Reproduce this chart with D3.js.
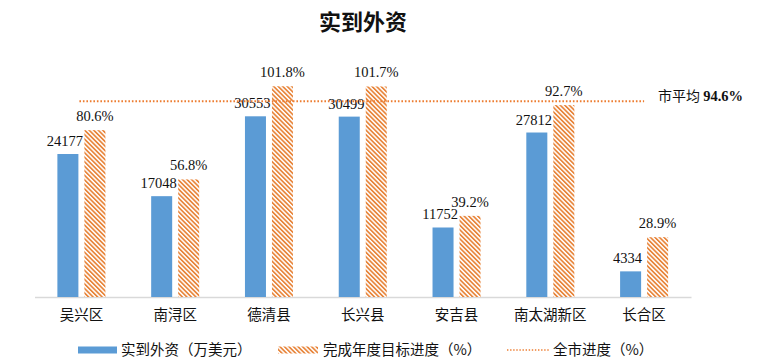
<!DOCTYPE html>
<html>
<head>
<meta charset="utf-8">
<script src="https://cdn.jsdelivr.net/npm/d3@7"></script>
<style>
  body { margin: 0; background: #fff; }
  svg { display: block; }
</style>
</head>
<body>
<svg width="768" height="361"></svg>
<script>
// data
var districts = ["吴兴区", "南浔区", "德清县", "长兴县", "安吉县", "南太湖新区", "长合区"];
var investment = [24177, 17048, 30553, 30499, 11752, 27812, 4334];   // 万美元
var progress = [80.6, 56.8, 101.8, 101.7, 39.2, 92.7, 28.9];         // %
var cityAverage = 94.6;
var legendLabels = ["实到外资（万美元）", "完成年度目标进度（%）", "全市进度（%）"];

var blue = "#5B9BD5", orange = "#ED7D31";
var cjkFont = "'Noto Sans CJK SC', sans-serif",
    numFont = "'Liberation Serif', 'Times New Roman', serif";

var svg = d3.select("svg");

// hatch pattern for progress bars
var defs = svg.append("defs");
var pat = defs.append("pattern")
    .attr("id", "hatch")
    .attr("patternUnits", "userSpaceOnUse")
    .attr("width", 3.2).attr("height", 3.2)
    .attr("patternTransform", "rotate(-45)");
pat.append("rect").attr("width", 3.2).attr("height", 3.2).attr("fill", "#fff");
pat.append("rect").attr("width", 1.7).attr("height", 3.2).attr("fill", "#E8863C");

var x0 = d3.scaleBand().domain(districts).range([34.5, 691])
    .paddingInner(0.488).paddingOuter(0.244);
var x1 = d3.scaleBand().domain(["inv", "prog"]).range([0, x0.bandwidth()])
    .paddingInner(0.222);

var yL = d3.scaleLinear().domain([0, 35000]).range([297, 90]);
var yR = d3.scaleLinear().domain([0, 100]).range([297, 90]);

// title
svg.append("text")
  .attr("x", 363).attr("y", 30)
  .attr("text-anchor", "middle")
  .style("font-family", cjkFont)
  .style("font-size", "22px").style("font-weight", "bold")
  .attr("fill", "#111")
  .text("实到外资");

// x axis line + labels
var xAxis = svg.append("g").attr("transform", "translate(0,297)")
  .call(d3.axisBottom(x0).tickSize(0).tickPadding(13));
xAxis.select(".domain").attr("stroke", "#D9D9D9").attr("stroke-width", 1.5);
xAxis.selectAll("text")
  .style("font-family", cjkFont)
  .style("font-size", "14.5px").attr("fill", "#111");

var groups = svg.append("g").selectAll("g")
  .data(districts)
  .join("g")
  .attr("transform", d => "translate(" + x0(d) + ",0)");

groups.append("rect")
  .attr("x", x1("inv"))
  .attr("y", (d, i) => yL(investment[i]))
  .attr("width", x1.bandwidth())
  .attr("height", (d, i) => yL(0) - yL(investment[i]))
  .attr("fill", blue);

groups.append("rect")
  .attr("x", x1("prog"))
  .attr("y", (d, i) => yR(progress[i]))
  .attr("width", x1.bandwidth())
  .attr("height", (d, i) => yR(0) - yR(progress[i]))
  .attr("fill", "url(#hatch)");

groups.append("text")
  .attr("x", x1("inv") + x1.bandwidth() / 2 - 3)
  .attr("y", (d, i) => yL(investment[i]) - 8)
  .attr("text-anchor", "middle")
  .style("font-family", numFont)
  .style("font-size", "14.5px").attr("fill", "#111")
  .text((d, i) => investment[i]);

groups.append("text")
  .attr("x", x1("prog") + x1.bandwidth() / 2)
  .attr("y", (d, i) => yR(progress[i]) - 9)
  .attr("text-anchor", "middle")
  .style("font-family", numFont)
  .style("font-size", "14.5px").attr("fill", "#111")
  .text((d, i) => progress[i].toFixed(1) + "%");

// city average line
var firstC = x0(districts[0]) + x0.bandwidth() / 2,
    lastC = x0(districts[districts.length - 1]) + x0.bandwidth() / 2;
svg.append("line")
  .attr("x1", firstC - 2).attr("x2", lastC)
  .attr("y1", yR(cityAverage)).attr("y2", yR(cityAverage))
  .attr("stroke", orange).attr("stroke-width", 2)
  .attr("stroke-dasharray", "1.6,1.9");

var avgLabel = svg.append("text")
  .attr("x", 658).attr("y", yR(cityAverage))
  .style("font-size", "14px").attr("fill", "#111");
avgLabel.append("tspan").style("font-family", cjkFont).text("市平均 ");
avgLabel.append("tspan").style("font-family", numFont).style("font-weight", "bold")
  .style("font-size", "14.5px")
  .text(cityAverage.toFixed(1) + "%");

// legend
var ly = 350;
svg.append("rect").attr("x", 78).attr("y", ly - 3.5).attr("width", 39).attr("height", 7).attr("fill", blue);
svg.append("rect").attr("x", 278).attr("y", ly - 3.5).attr("width", 40).attr("height", 7).attr("fill", "url(#hatch)");
svg.append("line").attr("x1", 507).attr("x2", 550).attr("y1", ly).attr("y2", ly)
  .attr("stroke", orange).attr("stroke-width", 1.6).attr("stroke-dasharray", "1.4,1.7");

var legendX = [121, 323, 553];
svg.append("g").selectAll("text")
  .data(legendLabels)
  .join("text")
  .attr("x", (d, i) => legendX[i]).attr("y", ly)
  .attr("dy", "0.35em")
  .style("font-family", cjkFont)
  .style("font-size", "14.5px").attr("fill", "#111")
  .text(d => d);
</script>
</body>
</html>
